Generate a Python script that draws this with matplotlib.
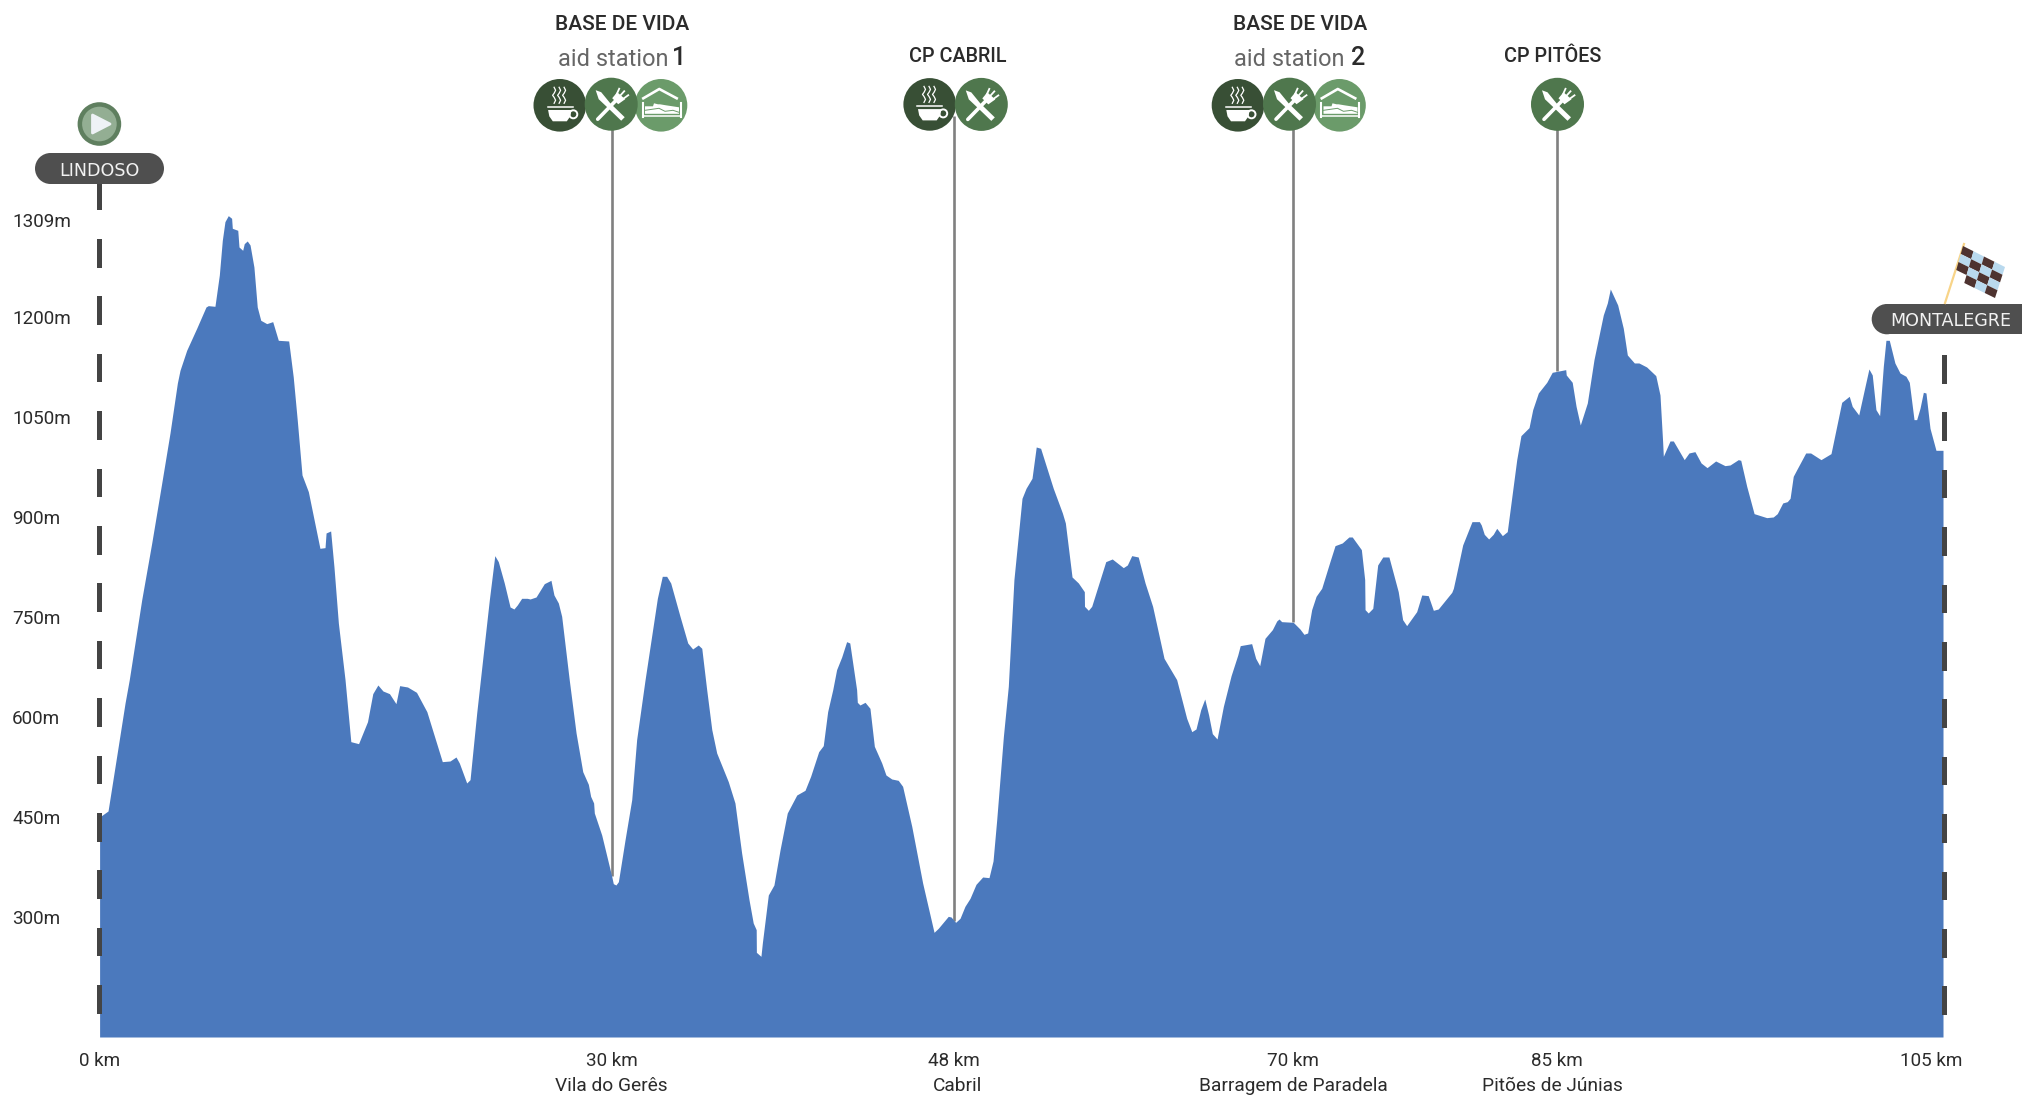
import numpy as np
import matplotlib
matplotlib.use("Agg")
import matplotlib.pyplot as plt
from matplotlib.patches import Circle, Polygon, Rectangle
from matplotlib.transforms import ScaledTranslation

plt.rcParams['font.family'] = ['Roboto', 'DejaVu Sans']

# elevation profile
km = [0, 0.48, 0.93, 1.45, 1.69, 2.40, 2.97, 3.54, 4.01, 4.43, 4.58, 4.96, 5.53, 6.06, 6.19, 6.57,
      6.82, 6.99, 7.14, 7.33, 7.52, 7.56, 7.87, 7.94, 8.15, 8.24, 8.41, 8.57, 8.79, 8.98, 9.18, 9.52,
      9.86, 10.18, 10.77, 11.03, 11.26, 11.53, 11.89, 12.55, 12.84, 12.90, 13.16, 13.35, 13.60, 13.98,
      14.31, 14.75, 15.26, 15.56, 15.85, 16.14, 16.51, 16.88, 17.09, 17.54, 18.05, 18.64, 19.52, 19.96,
      20.30, 20.49, 20.91, 21.10, 21.48, 21.86, 22.20, 22.51, 22.71, 23.05, 23.38, 23.60, 23.79, 24.04,
      24.36, 24.52, 24.86, 25.33, 25.71, 25.88, 26.13, 26.32, 26.75, 27.14, 27.52, 27.84, 27.97, 28.14,
      28.18, 28.60, 29.17, 29.26, 29.41, 29.55, 29.93, 30.31, 30.59, 31.07, 31.77, 32.05, 32.30, 32.53,
      33.06, 33.50, 33.78, 34.10, 34.30, 34.58, 34.87, 35.15, 35.81, 36.19, 36.57, 36.99, 37.23, 37.40,
      37.41, 37.67, 37.75, 38.09, 38.41, 38.76, 39.17, 39.71, 40.18, 40.50, 40.96, 41.22, 41.47, 41.76,
      41.98, 42.27, 42.55, 42.73, 43.12, 43.16, 43.31, 43.60, 43.88, 44.13, 44.55, 44.79, 45.12, 45.49,
      45.74, 46.26, 46.88, 47.53, 47.77, 48.34, 48.50, 48.76, 49.01, 49.29, 49.58, 49.92, 50.30, 50.66,
      50.89, 51.10, 51.48, 51.76, 52.08, 52.54, 52.77, 53.11, 53.35, 53.60, 54.32, 54.84, 55.01, 55.39,
      55.75, 56.09, 56.10, 56.32, 56.51, 57.31, 57.68, 58.31, 58.54, 58.79, 59.16, 59.55, 59.98, 60.63,
      61.35, 61.92, 62.21, 62.45, 62.72, 62.95, 63.17, 63.38, 63.65, 64.01, 64.45, 64.83, 64.97, 65.62,
      65.85, 66.08, 66.38, 66.80, 67.05, 67.18, 67.33, 67.99, 68.37, 68.60, 68.81, 69.04, 69.29, 69.61,
      70.08, 70.37, 70.78, 71.16, 71.35, 71.87, 72.06, 72.08, 72.26, 72.52, 72.80, 73.09, 73.44, 73.97,
      74.22, 74.45, 75.02, 75.31, 75.68, 75.97, 76.25, 77.02, 77.11, 77.26, 77.64, 78.17, 78.59, 78.70,
      78.87, 79.12, 79.38, 79.58, 79.90, 80.18, 80.72, 80.96, 81.42, 81.63, 81.95, 82.43, 82.74, 83.51,
      83.54, 83.88, 84.10, 84.34, 84.74, 85.12, 85.65, 85.88, 86.05, 86.47, 86.79, 87.02, 87.42, 87.68,
      88.12, 88.64, 88.88, 89.03, 89.07, 89.45, 89.64, 90.26, 90.53, 90.87, 91.22, 91.56, 92.05, 92.58,
      92.87, 93.34, 93.48, 93.82, 94.24, 94.96, 95.33, 95.56, 95.87, 96.13, 96.29, 96.47, 96.67, 97.18,
      97.46, 98.05, 98.62, 99.23, 99.66, 99.83, 100.20, 100.56, 100.78, 100.97, 101.18, 101.39, 101.60,
      101.75, 101.94, 102.26, 102.55, 102.89, 103.08, 103.35, 103.50, 103.69, 103.88, 104.03, 104.26,
      104.60, 105]
elev = [450, 459, 534, 621, 656, 776, 861, 951, 1026, 1101, 1120, 1150, 1183, 1215, 1217, 1216,
        1263, 1315, 1343, 1352, 1348, 1333, 1330, 1305, 1300, 1310, 1314, 1308, 1275, 1215, 1195, 1190,
        1193, 1165, 1164, 1110, 1045, 963, 938, 853, 854, 876, 879, 825, 741, 656,
        563, 560, 593, 635, 648, 639, 635, 620, 647, 645, 637, 608, 533, 534,
        540, 531, 501, 506, 606, 696, 776, 842, 833, 801, 765, 762, 768, 778,
        778, 777, 780, 800, 805, 783, 771, 751, 656, 576, 518, 499, 481, 471,
        456, 423, 361, 350, 348, 353, 416, 476, 566, 656, 778, 811, 811, 801,
        751, 711, 702, 708, 703, 641, 581, 546, 503, 471, 396, 326, 291, 281,
        247, 241, 261, 333, 348, 401, 456, 483, 490, 511, 548, 557, 608, 641,
        671, 690, 713, 711, 641, 622, 618, 622, 613, 556, 531, 513, 507, 505,
        496, 436, 351, 277, 283, 301, 300, 292, 298, 316, 328, 349, 360, 359,
        384, 446, 571, 646, 806, 928, 943, 958, 1005, 1003, 943, 906, 891, 810,
        801, 788, 766, 760, 766, 833, 837, 824, 828, 842, 840, 801, 766, 688,
        656, 598, 578, 582, 611, 627, 603, 575, 567, 616, 662, 693, 707, 710,
        688, 677, 718, 731, 744, 747, 743, 742, 732, 724, 726, 761, 781, 793,
        833, 857, 861, 870, 870, 851, 806, 761, 756, 763, 828, 840, 840, 788,
        746, 737, 758, 783, 782, 760, 762, 787, 793, 811, 858, 893, 893, 888,
        874, 867, 874, 883, 872, 878, 986, 1022, 1034, 1061, 1086, 1102, 1117, 1121,
        1113, 1102, 1066, 1038, 1071, 1136, 1203, 1221, 1242, 1218, 1183, 1143, 1131, 1131,
        1125, 1112, 1083, 1013, 991, 1014, 1014, 986, 996, 998, 981, 974, 984, 977,
        978, 986, 985, 946, 905, 899, 900, 905, 921, 923, 928, 961, 971, 996,
        996, 986, 995, 1072, 1081, 1066, 1053, 1096, 1122, 1113, 1061, 1052, 1126,
        1165, 1165, 1131, 1116, 1111, 1102, 1046, 1046, 1063, 1087, 1086, 1033,
        1000, 1000]

# the printed 1309m label sits level with the summit, not on the scale
y_ticks = [300, 450, 600, 750, 900, 1050, 1200, 1345]
y_labels = ['300m', '450m', '600m', '750m', '900m', '1050m', '1200m', '1309m']

x_ticks = [0, 29.17, 48.68, 67.99, 83.03, 105]
x_labels = ['0 km', '30 km', '48 km', '70 km', '85 km', '105 km']
x_places = ['', 'Vila do Gerês', 'Cabril', 'Barragem de Paradela', 'Pitões de Júnias', '']

station_km = [29.17, 48.68, 67.99, 83.03]

W, H = 2022, 1098
BLUE = '#4b79bd'
DARK = '#2b2b2b'
PILL = '#4f4f4f'
COFFEE = '#384f35'
FOOD = '#4f774d'
BED = '#6b9b6a'

fig = plt.figure(figsize=(W / 100, H / 100), dpi=100)

# main axes, placed to the pixel
left, right, top, bottom = 99.6, 1943, 100.3, 1037
ax = fig.add_axes([left / W, 1 - bottom / H, (right - left) / W, (bottom - top) / H])
ax.set_xlim(0, 105)
ax.set_ylim(120, 1525)
for s in ax.spines.values():
    s.set_visible(False)
ax.patch.set_visible(False)

for k in station_km:
    ax.vlines(k, np.interp(k, km, elev), 1501, color='#808080', lw=1.9, zorder=1)

ax.fill_between(km, 120, elev, color=BLUE, lw=0, zorder=2)

ax.set_yticks(y_ticks)
ax.set_yticklabels(y_labels, ha='left', fontsize=13.6, color=DARK)
ax.tick_params(axis='y', length=0, pad=63)
ax.set_xticks(x_ticks)
ax.set_xticklabels(x_labels, fontsize=13.6, color=DARK)
ax.tick_params(axis='x', length=0, pad=11)
lab = ax.get_xticklabels()[-1]
lab.set_transform(lab.get_transform() + ScaledTranslation(-11.5 / 100, 0, fig.dpi_scale_trans))

for k, name, dx in zip(x_ticks, x_places, [0, 0, 3, 0, -5, 0]):
    if name:
        ax.annotate(name, (k, 0), xycoords=('data', 'axes fraction'), xytext=(dx * 0.72, -35.3),
                    textcoords='offset points', ha='center', va='center', fontsize=13.8, color=DARK)

# overlay in image pixels for the badges and markers
ov = fig.add_axes([0, 0, 1, 1], zorder=5)
ov.set_xlim(0, W)
ov.set_ylim(H, 0)
ov.axis('off')

# dashed start and finish lines
for x, y0, y1 in [(99.6, 184, 210), (1944.7, 355, 384)]:
    ov.add_patch(Rectangle((x - 2.6, y0), 5.2, y1 - y0, color='#444444', lw=0))
for y0 in np.arange(239, 1000, 57.4):
    ov.add_patch(Rectangle((97, y0), 5.2, 28.7, color='#444444', lw=0))
for y0 in np.arange(412.4, 1000, 57.4):
    ov.add_patch(Rectangle((1942.1, y0), 5.2, 28.7, color='#444444', lw=0))


def pill(x0, x1, y0, y1, text, tx):
    r = (y1 - y0) / 2
    ov.add_patch(Circle((x0 + r, (y0 + y1) / 2), r, fc=PILL, lw=0))
    ov.add_patch(Circle((x1 - r, (y0 + y1) / 2), r, fc=PILL, lw=0))
    ov.add_patch(Rectangle((x0 + r, y0), x1 - x0 - 2 * r, y1 - y0, fc=PILL, lw=0))
    ov.text(tx, (y0 + y1) / 2, text, family='DejaVu Sans', fontsize=12.6, color='#f2f2f2',
            ha='center', va='center_baseline')


def cup(cx, cy):
    ov.add_patch(Circle((cx, cy), 26.3, fc=COFFEE, lw=0, zorder=3))
    ov.plot([cx - 12.3, cx + 12.7], [cy + 1.3, cy + 1.3], color='white', lw=1.1, zorder=4)
    ov.add_patch(Polygon([(cx - 11.7, cy + 4.7), (cx + 11.7, cy + 4.7), (cx + 10.5, cy + 11),
                          (cx + 7, cy + 16), (cx - 7, cy + 16), (cx - 10.5, cy + 11)],
                         fc='white', lw=0, zorder=4))
    ov.add_patch(Circle((cx + 13.5, cy + 9), 4, fc='none', ec='white', lw=1.4, zorder=4))
    for dx in (-5.7, -0.7, 4.3):
        ov.plot(cx + dx + np.array([0, 1.5, 0, -1.5, 0, 1.5, 0]), cy - np.array([2, 5, 8, 10, 12, 15, 18]),
                color='white', lw=0.9, zorder=4)


def fork(cx, cy):
    ov.add_patch(Circle((cx, cy), 26.5, fc=FOOD, lw=0, zorder=5))
    # knife
    ov.add_patch(Polygon([(cx - 15.5, cy - 14), (cx - 10, cy - 12), (cx - 1, cy - 1), (cx + 13.5, cy + 13),
                          (cx + 10, cy + 16.5), (cx - 4, cy + 3), (cx - 12.5, cy - 5)],
                         fc='white', lw=0, zorder=6))
    # fork handle and head
    ov.plot([cx - 13.5, cx + 5], [cy + 15, cy - 4], color='white', lw=2.6, zorder=6,
            solid_capstyle='round')
    ov.add_patch(Polygon([(cx + 1, cy - 6), (cx + 6, cy - 12), (cx + 14, cy - 5), (cx + 7, cy + 0)],
                         fc='white', lw=0, zorder=6))
    for a, b in [((cx + 5.5, cy - 10), (cx + 8, cy - 15.5)), ((cx + 8.5, cy - 8), (cx + 13, cy - 13)),
                 ((cx + 11.5, cy - 5), (cx + 17, cy - 9))]:
        ov.plot([a[0], b[0]], [a[1], b[1]], color='white', lw=1.3, zorder=6)


def bed(cx, cy):
    ov.add_patch(Circle((cx, cy), 26.3, fc=BED, lw=0, zorder=3))
    ov.plot([cx - 17.7, cx - 1.7, cx + 15.7], [cy - 7, cy - 16.3, cy - 7], color='white', lw=1.9, zorder=4)
    ov.plot([cx - 18.3, cx - 18.3], [cy - 2, cy + 12], color='white', lw=1.5, zorder=4)
    ov.plot([cx + 19.7, cx + 19.7], [cy - 2, cy + 12], color='white', lw=1.5, zorder=4)
    ov.add_patch(Polygon([(cx - 16, cy + 1), (cx - 8, cy + 1), (cx - 7, cy - 2), (cx - 3, cy - 1),
                          (cx - 1, cy - 1), (cx + 5, cy), (cx + 18, cy + 2), (cx + 18, cy + 8.5),
                          (cx - 16, cy + 8.5)], fc='white', lw=0, zorder=4))
    ov.plot([cx - 16, cx - 2, cx + 4, cx + 12, cx + 18], [cy + 5, cy + 3, cy + 6, cy + 5, cy + 7],
            color=BED, lw=0.7, zorder=4)
    ov.plot([cx - 18, cx + 19], [cy + 11, cy + 11], color='white', lw=1.1, zorder=4)


# start marker
ov.add_patch(Circle((99.4, 124), 21.8, fc='#5f7f5f', lw=0))
ov.add_patch(Circle((99.4, 124), 17.3, fc='#93ae93', lw=0))
ov.add_patch(Polygon([(92.5, 115), (110, 124), (92.5, 133)], fc='#eef2f6', ec='#eef2f6', lw=2,
                     joinstyle='round'))
pill(35, 164, 153, 184, 'LINDOSO', 99)

# finish marker
ov.plot([1945, 1964], [303, 244], color='#f8d488', lw=1.6, zorder=3)
tl, tr, br, bl = np.array([1963, 246.]), np.array([2005, 267.]), np.array([1995, 298.]), np.array([1954, 278.])


def flag_pt(u, v):
    return tl * (1 - u) * (1 - v) + tr * u * (1 - v) + bl * (1 - u) * v + br * u * v


n = 4
for i in range(n):
    for j in range(n):
        if i == 0 and j == 3:
            continue
        u0, u1, v0, v1 = i / n, (i + 1) / n, j / n, (j + 1) / n
        c = '#4e3330' if (i + j) % 2 == 0 else '#b9d9ee'
        ov.add_patch(Polygon([flag_pt(u0, v0), flag_pt(u1, v0), flag_pt(u1, v1), flag_pt(u0, v1)],
                             fc=c, lw=0, zorder=3))
pill(1871.7, 2050, 304, 334.3, 'MONTALEGRE', 1951)

# aid stations
cup(559.8, 105.3); fork(611.2, 104.2); bed(661, 105.3)
cup(929.7, 104.4); fork(981.3, 104.4)
cup(1238, 105.3); fork(1289.5, 104.2); bed(1339.5, 105.3)
fork(1557.5, 104.3)

head = dict(fontsize=15, weight='medium', color=DARK, ha='center', va='center')
ov.text(622, 25, 'BASE DE VIDA', **head)
ov.text(1300, 25, 'BASE DE VIDA', **head)
head['fontsize'] = 14.2
ov.text(958, 57, 'CP CABRIL', **head)
ov.text(1552.6, 57, 'CP PITÔES', **head)

sub = dict(fontsize=17, color='#666666', ha='right', va='center')
ov.text(669, 59, 'aid station', **sub)
ov.text(1344, 59, 'aid station', **sub)
ov.text(679.5, 58, '1', fontsize=18, weight='medium', color=DARK, ha='center', va='center')
ov.text(1358.5, 58, '2', fontsize=18, weight='medium', color=DARK, ha='center', va='center')

fig.savefig('out.png', dpi=100, facecolor='white')
